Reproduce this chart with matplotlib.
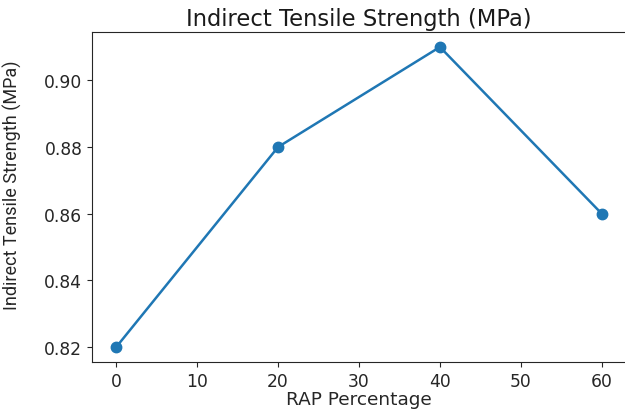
import matplotlib
matplotlib.use("Agg")
import matplotlib.pyplot as plt

rap = [0, 20, 40, 60]
its = [0.82, 0.88, 0.91, 0.86]
xticks = [0, 10, 20, 30, 40, 50, 60]
yticks = [0.82, 0.84, 0.86, 0.88, 0.90]

W, H = 625, 410
fig = plt.figure(figsize=(W/100, H/100), dpi=100)
left, right, top, bottom = 92, 626, 33, 363
ax = fig.add_axes([left/W, 1-bottom/H, (right-left)/W, (bottom-top)/H])
ax.plot(rap, its, marker='o', color='#1f77b4', linewidth=1.8, markersize=7.5)
ax.set_xticks(xticks)
ax.set_yticks(yticks)
ax.set_yticklabels([f"{v:.2f}" for v in yticks])
ax.tick_params(labelsize=12.3, colors='#262626')
for s in ax.spines.values():
    s.set_color('#262626')
ax.set_title("Indirect Tensile Strength (MPa)", fontsize=16.3, color='#1a1a1a', pad=5)
ax.set_xlabel("RAP Percentage", fontsize=13.3, color='#262626', labelpad=0)
ax.set_ylabel("Indirect Tensile Strength (MPa)", fontsize=13, color='#262626',
              family=['Roboto', 'DejaVu Sans'])
ax.yaxis.set_label_coords(-0.131, 0.54)
fig.savefig("out.png", dpi=100)
